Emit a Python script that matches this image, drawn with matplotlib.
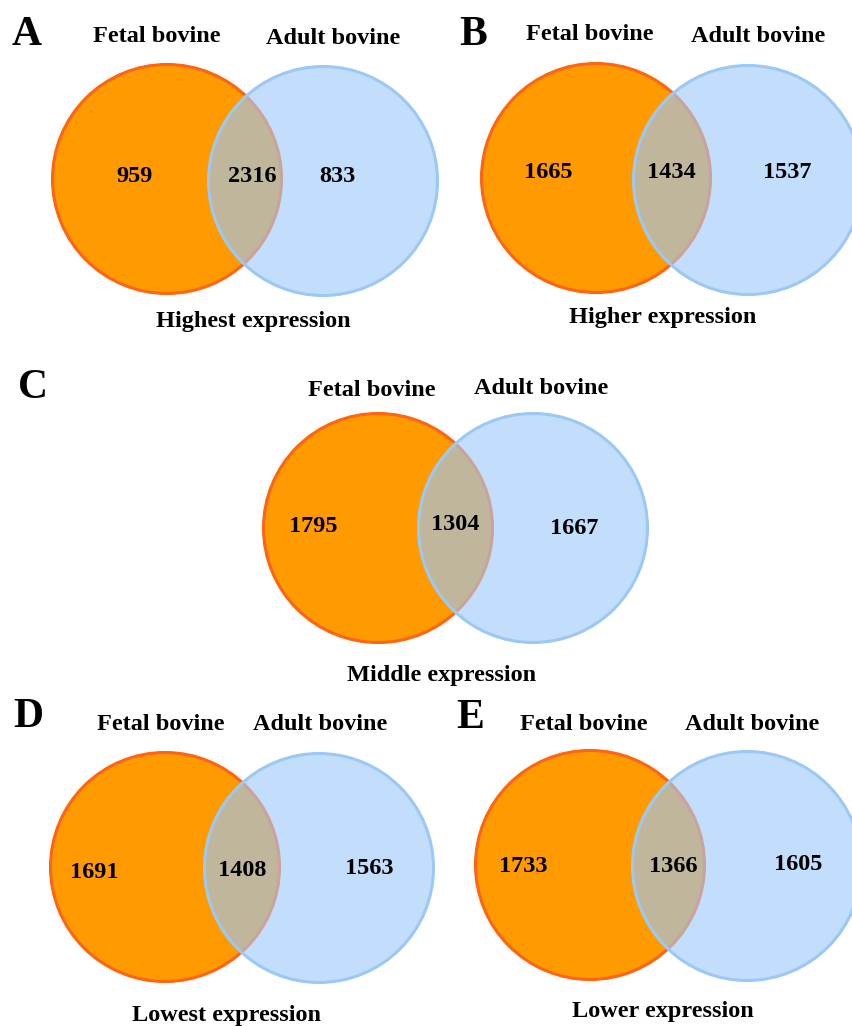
import matplotlib.pyplot as plt
from matplotlib.patches import Circle

# data
letters = ["A", "B", "C", "D", "E"]
titles = ["Highest expression", "Higher expression", "Middle expression",
          "Lowest expression", "Lower expression"]
set_names = ["Fetal bovine", "Adult bovine"]
fetal_only = [959, 1665, 1795, 1691, 1733]
shared = [2316, 1434, 1304, 1408, 1366]
adult_only = [833, 1537, 1667, 1563, 1605]

# layout in pixels (x, y from top)
orange_c = [(167, 179), (596, 178), (378, 528), (165, 867), (590, 865)]
blue_c = [(323, 181), (748, 180), (533, 528), (319, 868), (747, 866)]
radius = 114.5
letter_xy = [(27, 35), (473, 35), (33, 388), (28, 717), (470, 718)]
name_xy = [((157, 37), (333, 38)), ((590, 35), (758, 37)), ((372, 391), (541, 389)),
           ((161, 725), (320, 725)), ((584, 724), (752, 724))]
num_xy = [((135, 176), (252, 176), (337, 176)),
          ((548, 173), (671, 173), (787, 172)),
          ((313, 526), (455, 525), (574, 528)),
          ((94, 872), (242, 870), (369, 869)),
          ((523, 866), (673, 866), (798, 865))]
title_xy = [(253, 322), (663, 318), (442, 675), (227, 1015), (663, 1012)]

orange = "#FF9A00"
orange_edge = "#FF6412"
blue = "#C2DEFC"
blue_edge = "#9CC8F6"
mix = "#BFB69C"
mix_edge = "#C9A39C"

plt.rcParams['font.family'] = ['Liberation Serif', 'DejaVu Serif']
fig = plt.figure(figsize=(8.53, 10.26), dpi=100)
ax = fig.add_axes([0, 0, 1, 1])
ax.set_xlim(0, 853)
ax.set_ylim(1026, 0)
ax.axis("off")

for i in range(len(letters)):
    oc = Circle(orange_c[i], radius, fc=orange, ec=orange_edge, lw=2.2, zorder=1)
    ax.add_patch(oc)
    bc = Circle(blue_c[i], radius, fc=blue, ec="none", zorder=2)
    ax.add_patch(bc)
    ov = Circle(orange_c[i], radius, fc=mix, ec=mix_edge, lw=2.2, zorder=3)
    ax.add_patch(ov)
    ov.set_clip_path(bc)
    ax.add_patch(Circle(blue_c[i], radius, fc="none", ec=blue_edge, lw=2.2, zorder=4))

    ax.text(*letter_xy[i], letters[i], fontsize=30, fontweight="bold",
            ha="center", va="center")
    for j in range(2):
        ax.text(*name_xy[i][j], set_names[j], fontsize=17.5, fontweight="bold",
                ha="center", va="center")
    vals = [fetal_only[i], shared[i], adult_only[i]]
    for j in range(3):
        ax.text(*num_xy[i][j], str(vals[j]), fontsize=17.5, fontweight="bold",
                ha="center", va="center", zorder=5)
    ax.text(*title_xy[i], titles[i], fontsize=17.5, fontweight="bold",
            ha="center", va="center")

fig.savefig("out.png", dpi=100)
